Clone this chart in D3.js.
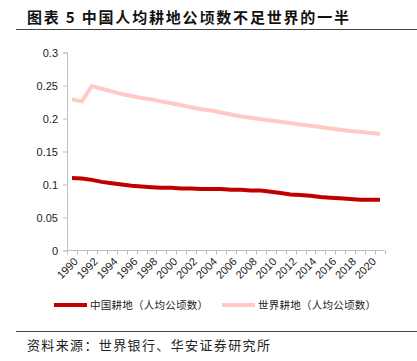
<!DOCTYPE html>
<html><head><meta charset="utf-8">
<script src="https://cdn.jsdelivr.net/npm/d3@7"></script>
<style>body{margin:0;background:#fff}svg{display:block}</style>
</head><body>
<script>
const years = d3.range(1990, 2022).map(String);
const chinaLand = [0.110,0.109,0.107,0.104,0.102,0.100,0.098,0.097,0.096,0.095,0.095,0.094,0.094,0.093,0.093,0.093,0.092,0.092,0.091,0.091,0.089,0.087,0.085,0.084,0.083,0.081,0.080,0.079,0.078,0.077,0.077,0.077];
const worldLand = [0.229,0.226,0.249,0.245,0.241,0.237,0.234,0.231,0.229,0.226,0.223,0.220,0.217,0.214,0.212,0.209,0.206,0.203,0.201,0.199,0.197,0.195,0.193,0.191,0.189,0.187,0.185,0.183,0.181,0.180,0.178,0.177];
const yTicks = [0,0.05,0.1,0.15,0.2,0.25,0.3];
const xLabels = years.filter((d,i)=>i%2===0);
const seriesNames = ["中国耕地（人均公顷数）","世界耕地（人均公顷数）"];
const colors = ["#C00000","#FFC9C5"];
const titleText = "图表 5 中国人均耕地公顷数不足世界的一半";
const sourceText = "资料来源：世界银行、华安证券研究所";

const W=417,H=361;
const svg=d3.select("body").append("svg").attr("width",W).attr("height",H);
const cjk="'Noto Sans CJK SC','Noto Sans',sans-serif";
const num="'Liberation Sans',Arial,sans-serif";

svg.append("text").attr("x",27).attr("y",23).attr("font-family",cjk).attr("font-weight","bold")
  .attr("font-size",15).attr("fill","#111").attr("textLength",322).attr("lengthAdjust","spacing").text(titleText);
svg.append("line").attr("x1",16).attr("x2",417).attr("y1",29.5).attr("y2",29.5).attr("stroke","#444").attr("stroke-width",1);
svg.append("line").attr("x1",16).attr("x2",417).attr("y1",331.5).attr("y2",331.5).attr("stroke","#444").attr("stroke-width",1);
svg.append("text").attr("x",27).attr("y",350).attr("font-family",cjk).attr("font-size",13)
  .attr("fill","#222").attr("textLength",243).attr("lengthAdjust","spacing").text(sourceText);

const x=d3.scaleBand().domain(years).range([67,385]);
const y=d3.scaleLinear().domain([0,0.3]).range([250.5,52.5]);

const yAxis=svg.append("g").attr("transform","translate(67,0)")
  .call(d3.axisLeft(y).tickValues(yTicks).tickSize(4).tickPadding(5).tickFormat(d=>String(d)));
yAxis.select(".domain").attr("stroke","#BFBFBF");
yAxis.selectAll(".tick line").attr("stroke","#BFBFBF");
yAxis.selectAll("text").attr("font-family",num).attr("font-size",11).attr("fill","#222");

const xg=svg.append("g").attr("transform","translate(0,250.5)");
xg.append("line").attr("x1",67).attr("x2",385).attr("stroke","#BFBFBF");
const bounds=years.map(d=>x(d)).concat([385]);
xg.selectAll("line.t").data(bounds).join("line").attr("class","t")
  .attr("x1",d=>Math.round(d)+0.5).attr("x2",d=>Math.round(d)+0.5).attr("y1",0).attr("y2",4).attr("stroke","#BFBFBF");
xg.selectAll("text").data(xLabels).join("text")
  .attr("transform",d=>`translate(${x(d)+x.bandwidth()/2+4},${9}) rotate(-45)`)
  .attr("text-anchor","end").attr("font-family",num).attr("font-size",11).attr("fill","#222")
  .attr("dy","0.35em").text(d=>d);

const line=d3.line().x((d,i)=>x(years[i])+x.bandwidth()/2).y(d=>y(d));
[worldLand,chinaLand].forEach((s,k)=>{
  svg.append("path").datum(s).attr("d",line).attr("fill","none")
    .attr("stroke",k===0?colors[1]:colors[0]).attr("stroke-width",4).attr("stroke-linejoin","round");
});

const leg=[{x1:54,tx:90,c:colors[0],t:seriesNames[0]},{x1:222,tx:258,c:colors[1],t:seriesNames[1]}];
leg.forEach(l=>{
  svg.append("line").attr("x1",l.x1).attr("x2",l.x1+33).attr("y1",305).attr("y2",305).attr("stroke",l.c).attr("stroke-width",4);
  svg.append("text").attr("x",l.tx).attr("y",309).attr("font-family",cjk).attr("font-size",10.5)
    .attr("fill","#222").attr("textLength",118).attr("lengthAdjust","spacing").text(l.t);
});
</script>
</body></html>
